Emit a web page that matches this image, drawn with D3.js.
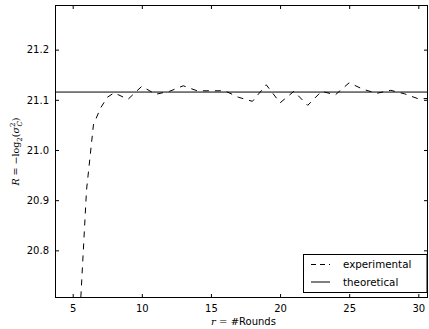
<!DOCTYPE html>
<html>
<head>
<meta charset="utf-8">
<script src="https://cdn.jsdelivr.net/npm/d3@7"></script>
<style>
  body { margin: 0; background: #fff; }
  svg { display: block; font-family: "DejaVu Sans", sans-serif; }
</style>
</head>
<body>
<script>
// rounds vs R
var rounds = [5, 5.5, 6, 6.5, 7, 7.5, 8, 9, 10, 11, 12, 13, 14, 15, 16, 17, 18,
              19, 20, 21, 22, 23, 24, 25, 26, 27, 28, 29, 30, 31];
var experimental = [20.30, 20.66, 20.92, 21.05, 21.083, 21.105, 21.114, 21.101, 21.127,
                    21.111, 21.117, 21.128, 21.118, 21.118, 21.118, 21.105, 21.097,
                    21.130, 21.094, 21.117, 21.089, 21.117, 21.110, 21.134, 21.121,
                    21.113, 21.119, 21.112, 21.102, 21.103];
var theoretical = 21.1155;
var xTicks = [5, 10, 15, 20, 25, 30];
var yTicks = [20.8, 20.9, 21.0, 21.1, 21.2];
var legendLabels = ["experimental", "theoretical"];

var W = 429, H = 329;
// "top" is taken by window.top, so use a prefix
var pLeft = 55, pRight = 428, pTop = 5, pBottom = 298;

var svg = d3.select("body").append("svg")
    .attr("width", W)
    .attr("height", H);

var x = d3.scaleLinear().domain([3.72, 30.7]).range([pLeft, pRight]);
var y = d3.scaleLinear().domain([20.705, 21.289]).range([pBottom, pTop]);

svg.append("clipPath").attr("id", "clip")
    .append("rect")
    .attr("x", pLeft).attr("y", pTop)
    .attr("width", pRight - pLeft).attr("height", pBottom - pTop);

var plot = svg.append("g").attr("clip-path", "url(#clip)");

var pts = rounds.map(function (r, i) { return [r, experimental[i]]; });
var line = d3.line()
    .x(function (d) { return x(d[0]); })
    .y(function (d) { return y(d[1]); });

plot.append("path")
    .datum(pts)
    .attr("d", line)
    .attr("fill", "none")
    .attr("stroke", "#000")
    .attr("stroke-width", 1)
    .attr("stroke-dasharray", "6,6");

plot.append("line")
    .attr("x1", pLeft).attr("x2", pRight)
    .attr("y1", y(theoretical)).attr("y2", y(theoretical))
    .attr("stroke", "#000")
    .attr("stroke-width", 1);

// axes, ticks pointing inward on all four sides
function styleAxis(g) {
    g.select(".domain").remove();
    g.selectAll("line").attr("stroke", "#000");
    g.selectAll("text").attr("fill", "#000").style("font-size", "10px")
        .style("font-family", "DejaVu Sans");
}

svg.append("g")
    .attr("transform", "translate(0," + pBottom + ")")
    .call(d3.axisBottom(x).tickValues(xTicks).tickSizeInner(-4).tickSizeOuter(0).tickPadding(7)
        .tickFormat(d3.format("d")))
    .call(styleAxis);

svg.append("g")
    .attr("transform", "translate(0," + pTop + ")")
    .call(d3.axisTop(x).tickValues(xTicks).tickSizeInner(-4).tickSizeOuter(0).tickFormat(""))
    .call(styleAxis);

svg.append("g")
    .attr("transform", "translate(" + pLeft + ",0)")
    .call(d3.axisLeft(y).tickValues(yTicks).tickSizeInner(-4).tickSizeOuter(0).tickPadding(6)
        .tickFormat(d3.format(".1f")))
    .call(styleAxis);

svg.append("g")
    .attr("transform", "translate(" + pRight + ",0)")
    .call(d3.axisRight(y).tickValues(yTicks).tickSizeInner(-4).tickSizeOuter(0).tickFormat(""))
    .call(styleAxis);

svg.append("rect")
    .attr("x", pLeft + 0.5).attr("y", pTop + 0.5)
    .attr("width", pRight - pLeft - 1).attr("height", pBottom - pTop - 1)
    .attr("fill", "none")
    .attr("stroke", "#000")
    .attr("stroke-width", 1);

// axis labels
var xl = svg.append("text")
    .attr("x", (pLeft + pRight) / 2 + 2)
    .attr("y", 325)
    .attr("text-anchor", "middle")
    .style("font-size", "10px")
    .attr("fill", "#000");
xl.append("tspan").style("font-family", "DejaVu Serif").style("font-style", "italic").text("r");
xl.append("tspan").style("font-family", "DejaVu Serif").text(" = #");
xl.append("tspan").text("Rounds");

var yl = svg.append("text")
    .attr("transform", "translate(19," + ((pTop + pBottom) / 2) + ") rotate(-90)")
    .attr("text-anchor", "middle")
    .style("font-family", "DejaVu Serif")
    .style("font-size", "9.5px")
    .attr("fill", "#000");
yl.append("tspan").style("font-style", "italic").text("R");
yl.append("tspan").text(" = \u2212log");
yl.append("tspan").attr("dy", 2.5).style("font-size", "7px").text("2");
yl.append("tspan").attr("dy", -2.5).text("(");
yl.append("tspan").style("font-style", "italic").text("\u03c3");
yl.append("tspan").attr("dy", -4).style("font-size", "7px").text("2");
yl.append("tspan").attr("dx", -4).attr("dy", 7).style("font-size", "7px").style("font-style", "italic").text("C");
yl.append("tspan").attr("dy", -3).text(")");

// legend
var lg = svg.append("g");
lg.append("rect")
    .attr("x", 303.5).attr("y", 254.5)
    .attr("width", 123.5).attr("height", 38)
    .attr("fill", "#fff")
    .attr("stroke", "#000")
    .attr("stroke-width", 1);

legendLabels.forEach(function (lab, i) {
    var ly = 264.5 + i * 17.5;
    lg.append("line")
        .attr("x1", 311).attr("x2", 330)
        .attr("y1", ly).attr("y2", ly)
        .attr("stroke", "#000")
        .attr("stroke-width", 1)
        .attr("stroke-dasharray", i === 0 ? "5,4" : null);
    lg.append("text")
        .attr("x", 343)
        .attr("y", ly + 3.8)
        .style("font-size", "10.3px")
        .attr("fill", "#000")
        .text(lab);
});
</script>
</body>
</html>
